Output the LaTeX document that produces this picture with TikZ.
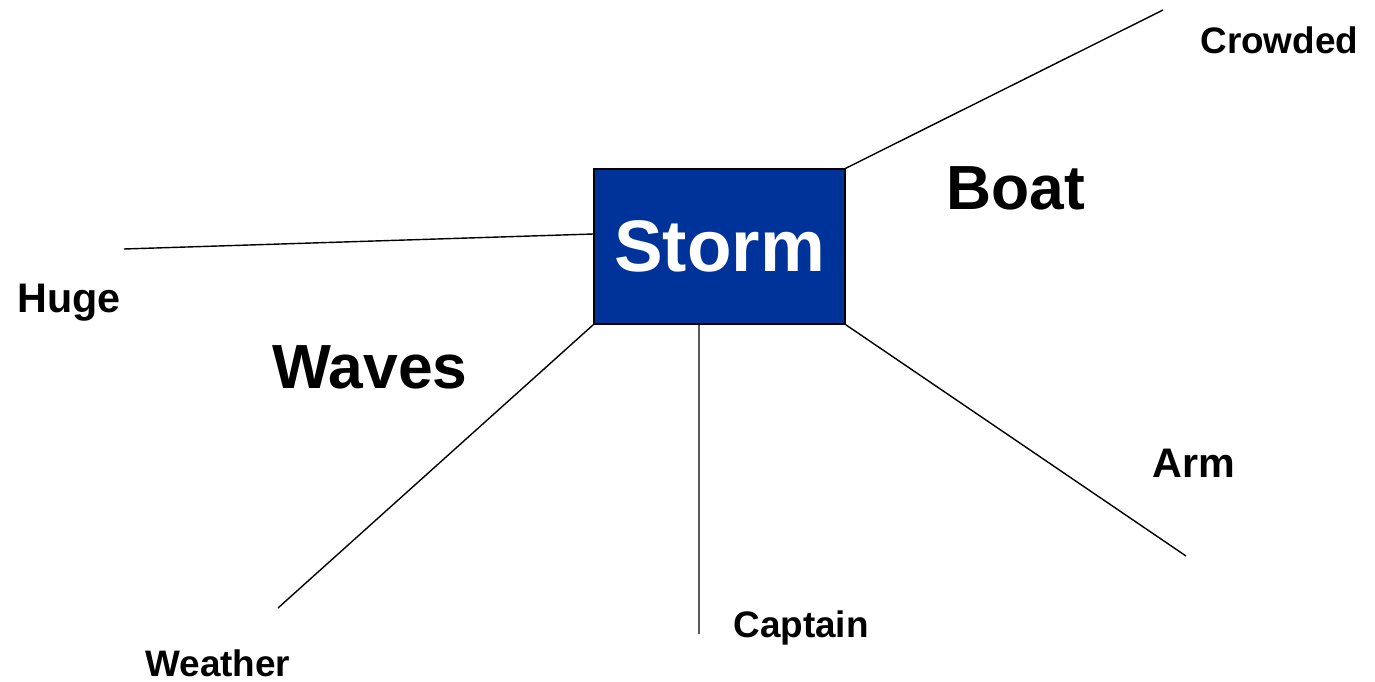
\documentclass[tikz,border=0pt]{standalone}
\usepackage{fontspec}
\setmainfont{Liberation Sans}
\definecolor{stormblue}{HTML}{003399}

\begin{document}
\begin{tikzpicture}[x=0.02cm,y=-0.02cm,
        spoke/.style={line width=0.8pt},
        small/.style={anchor=base west, inner sep=0pt, font=\bfseries\fontsize{21}{21}\selectfont},
        medium/.style={anchor=base west, inner sep=0pt, font=\bfseries\fontsize{23.5}{23.5}\selectfont},
        big/.style={anchor=base west, inner sep=0pt, font=\bfseries\fontsize{35.5}{35.5}\selectfont}]
        \useasboundingbox (0,0) rectangle (1375,682);
        % centre box
        \node[draw=black, line width=0.8pt, fill=stormblue, text=white, minimum width=5.02cm, minimum height=3.1cm,
              inner sep=0pt, font=\bfseries\fontsize{41.5}{41.5}\selectfont] (storm) at (719.5,246.5) {Storm};
        % free ends of the spokes
        \coordinate (endcrowded) at (1163,10);
        \coordinate (endhuge) at (124,249);
        \coordinate (endweather) at (278,608);
        \coordinate (endcaptain) at (699,634);
        \coordinate (endarm) at (1186,556);
        \draw[spoke] (storm.north east) -- (endcrowded);
        \draw[spoke] ([yshift=0.25cm]storm.west) -- (endhuge);
        \draw[spoke] (storm.south west) -- (endweather);
        \draw[spoke] ([xshift=-0.41cm]storm.south) -- (endcaptain);
        \draw[spoke] (storm.south east) -- (endarm);
        % words
        \node[small] (crowded) at (1200,54) {Crowded};
        \node[big] (boat) at (946,210) {Boat};
        \node[medium] (huge) at (17,312) {Huge};
        \node[big] (waves) at (272,388) {Waves};
        \node[medium] (arm) at (1152,477) {Arm};
        \node[small] (captain) at (733,637) {Captain};
        \node[small] (weather) at (145,676) {Weather};
    \end{tikzpicture}
\end{document}
